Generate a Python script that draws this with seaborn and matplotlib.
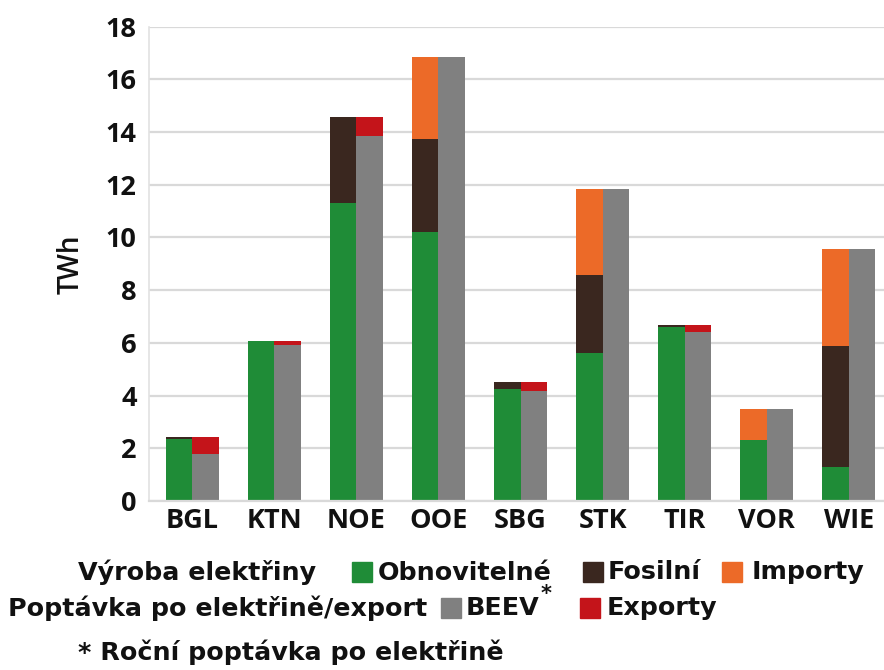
import matplotlib
matplotlib.use("Agg")
import matplotlib.pyplot as plt
import seaborn as sns
import pandas as pd

# values (TWh)
regions = ['BGL', 'KTN', 'NOE', 'OOE', 'SBG', 'STK', 'TIR', 'VOR', 'WIE']
obnovitelne = [2.35, 6.08, 11.32, 10.20, 4.24, 5.60, 6.59, 2.32, 1.31]
fosilni = [0.07, 0.00, 3.26, 3.54, 0.28, 2.99, 0.10, 0.00, 4.57]
importy = [0.00, 0.00, 0.00, 3.12, 0.00, 3.24, 0.00, 1.18, 3.69]
beev = [1.78, 5.92, 13.85, 16.86, 4.16, 11.83, 6.40, 3.50, 9.57]
exporty = [0.64, 0.16, 0.73, 0.00, 0.36, 0.00, 0.29, 0.00, 0.00]

c_green = '#1f8c37'
c_brown = '#3a271f'
c_orange = '#ec6a28'
c_gray = '#808080'
c_red = '#c4141a'

sns.set_style("white")
plt.rcParams['text.color'] = '#111111'
plt.rcParams['axes.labelcolor'] = '#111111'
plt.rcParams['xtick.color'] = '#111111'
plt.rcParams['ytick.color'] = '#111111'

# cumulative heights for layered (stacked) drawing
df = pd.DataFrame({'region': regions})
df['prod1'] = obnovitelne
df['prod2'] = df['prod1'] + pd.Series(fosilni)
df['prod3'] = df['prod2'] + pd.Series(importy)
df['dem1'] = beev
df['dem2'] = df['dem1'] + pd.Series(exporty)

def layer(prod_col, dem_col):
    a = pd.DataFrame({'region': regions, 'side': 'prod', 'val': df[prod_col]})
    b = pd.DataFrame({'region': regions, 'side': 'dem', 'val': df[dem_col]})
    return pd.concat([a, b], ignore_index=True)

fig = plt.figure(figsize=(8.84, 6.70), dpi=100)
ax = fig.add_axes([0.1686, 0.2522, 0.8314, 0.708])

layers = [('prod3', 'dem2', c_orange, c_red),
          ('prod2', 'dem1', c_brown, c_gray),
          ('prod1', 'dem1', c_green, c_gray)]
for pc, dc, col_p, col_d in layers:
    sns.barplot(data=layer(pc, dc), x='region', y='val', hue='side',
                hue_order=['prod', 'dem'], palette={'prod': col_p, 'dem': col_d},
                order=regions, dodge=True, width=0.646, gap=0,
                errorbar=None, linewidth=0, saturation=1, legend=False, ax=ax)

ax.set_ylim(0, 18)
ax.set_xlim(-0.528, 8.43)
ax.set_yticks(range(0, 19, 2))
ax.yaxis.grid(True, color='#d9d9d9', linewidth=1.6)
ax.set_axisbelow(True)
for s in ['top', 'right']:
    ax.spines[s].set_visible(False)
ax.spines['left'].set_color('#e2e2e2')
ax.spines['bottom'].set_color('#d9d9d9')
ax.spines['left'].set_linewidth(1.2)
ax.spines['bottom'].set_linewidth(1.6)
ax.tick_params(length=0)
ax.tick_params(axis='y', pad=9)
ax.tick_params(axis='x', pad=5)
for t in ax.get_xticklabels() + ax.get_yticklabels():
    t.set_fontfamily(['Open Sans', 'DejaVu Sans'])
    t.set_fontweight('bold')
    t.set_fontsize(19.5)
ax.set_xlabel('')
ax.set_ylabel('TWh', family=['Open Sans', 'DejaVu Sans'], fontsize=20,
              fontweight='semibold', labelpad=14)

# legend built as text + squares below the plot
lf = dict(family=['DejaVu Sans'], fontweight='bold', fontsize=18.3,
          va='center', ha='left')

def sq(x, y, color):
    fig.patches.append(plt.Rectangle((x / 884, 1 - (y + 10) / 670), 20 / 884, 20 / 670,
                                     color=color, transform=fig.transFigure, figure=fig))

def txt(x, y, s, **kw):
    fig.text(x / 884, 1 - y / 670, s, **{**lf, **kw})

txt(78, 572, 'Výroba elektřiny')
sq(352, 572, c_green)
txt(378, 573, 'Obnovitelné')
sq(583, 572, c_brown)
txt(608, 572, 'Fosilní')
sq(722, 572, c_orange)
txt(752, 572, 'Importy')
txt(8, 608, 'Poptávka po elektřině/export')
sq(441, 608, c_gray)
txt(466, 608, 'BEEV')
txt(541, 594, '*', fontsize=15)
sq(580, 608, c_red)
txt(607, 608, 'Exporty')
txt(78, 652, '* Roční poptávka po elektřině')

plt.savefig('out.png', dpi=100)
plt.close()
